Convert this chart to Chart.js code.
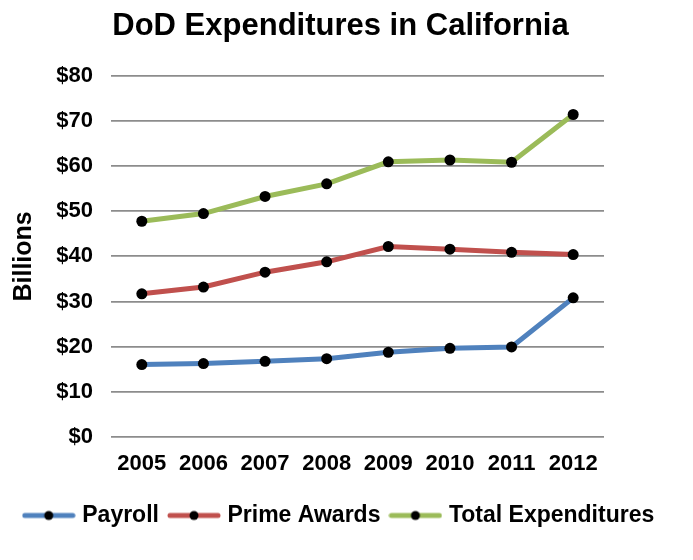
<!DOCTYPE html>
<html>
<head>
<meta charset="utf-8">
<script src="https://cdn.jsdelivr.net/npm/chart.js@4"></script>
<style>
  body { margin: 0; background: #fff; }
</style>
</head>
<body>
<canvas id="dodChart" width="693" height="560"></canvas>
<script>
const years = ['2005', '2006', '2007', '2008', '2009', '2010', '2011', '2012'];
const payroll = [16.0, 16.2, 16.7, 17.3, 18.7, 19.6, 19.9, 30.8];
const primeAwards = [31.7, 33.2, 36.5, 38.8, 42.2, 41.6, 40.9, 40.4];
const totalExpenditures = [47.8, 49.5, 53.3, 56.1, 61.0, 61.4, 60.9, 71.5];
const yTicks = [0, 10, 20, 30, 40, 50, 60, 70, 80];

const FONT = 'Liberation Sans, Arial, sans-serif';

// line-with-dot swatch used in the legend only
function swatch(color) {
  const c = document.createElement('canvas');
  c.width = 54; c.height = 12;
  const g = c.getContext('2d');
  g.strokeStyle = color; g.lineWidth = 5; g.lineCap = 'round';
  g.beginPath(); g.moveTo(3, 6); g.lineTo(51, 6); g.stroke();
  g.fillStyle = '#000';
  g.beginPath(); g.arc(27, 6, 4.5, 0, Math.PI * 2); g.fill();
  return c;
}

function series(label, data, color) {
  return {
    label, data,
    borderColor: color,
    backgroundColor: '#000',
    borderWidth: 5,
    pointRadius: 5.5,
    pointHoverRadius: 5.5,
    pointBorderWidth: 0,
    pointBackgroundColor: '#000',
    pointStyle: 'circle',
    tension: 0,
    legendSwatch: swatch(color)
  };
}

const ctx = document.getElementById('dodChart');
new Chart(ctx, {
  type: 'line',
  data: {
    labels: years,
    datasets: [
      series('Payroll', payroll, '#4f81bd'),
      series('Prime Awards', primeAwards, '#c0504d'),
      series('Total Expenditures', totalExpenditures, '#9bbb59')
    ]
  },
  options: {
    responsive: false,
    animation: false,
    layout: { padding: { left: 0, right: 12, top: 6, bottom: 23 } },
    plugins: {
      title: {
        display: true,
        text: 'DoD Expenditures in California',
        color: '#000',
        font: { family: FONT, size: 31, weight: 'bold' },
        padding: { top: 2, bottom: 31 }
      },
      legend: {
        position: 'bottom',
        labels: {
          color: '#000',
          font: { family: FONT, size: 23, weight: 'bold' },
          usePointStyle: true,
          pointStyleWidth: 44,
          padding: 13,
          generateLabels(chart) {
            return chart.data.datasets.map((ds, i) => ({
              text: ds.label,
              pointStyle: ds.legendSwatch,
              fontColor: '#000',
              hidden: false,
              datasetIndex: i,
              lineWidth: 0
            }));
          }
        }
      }
    },
    scales: {
      x: {
        offset: true,
        grid: { display: false, drawTicks: false },
        border: { display: false },
        ticks: { color: '#000', font: { family: FONT, size: 22, weight: 'bold' }, padding: 14 }
      },
      y: {
        min: 0,
        max: 80,
        afterBuildTicks(axis) { axis.ticks = yTicks.map(v => ({ value: v })); },
        afterFit(s) { s.width = 111; },
        grid: { color: '#8c8c8c', lineWidth: 1.8, drawTicks: false },
        border: { display: false },
        title: {
          display: true,
          text: 'Billions',
          color: '#000',
          font: { family: FONT, size: 25, weight: 'bold' },
          padding: { top: 9, bottom: 0 }
        },
        ticks: {
          color: '#000',
          font: { family: FONT, size: 22, weight: 'bold' },
          padding: 18,
          callback: v => '$' + v
        }
      },
      // empty right-hand axis, only reserves the right margin of the plot
      yRight: {
        position: 'right',
        grid: { display: false, drawTicks: false },
        border: { display: false },
        ticks: { display: false },
        afterFit(s) { s.width = 77; }
      }
    }
  }
});
</script>
</body>
</html>
